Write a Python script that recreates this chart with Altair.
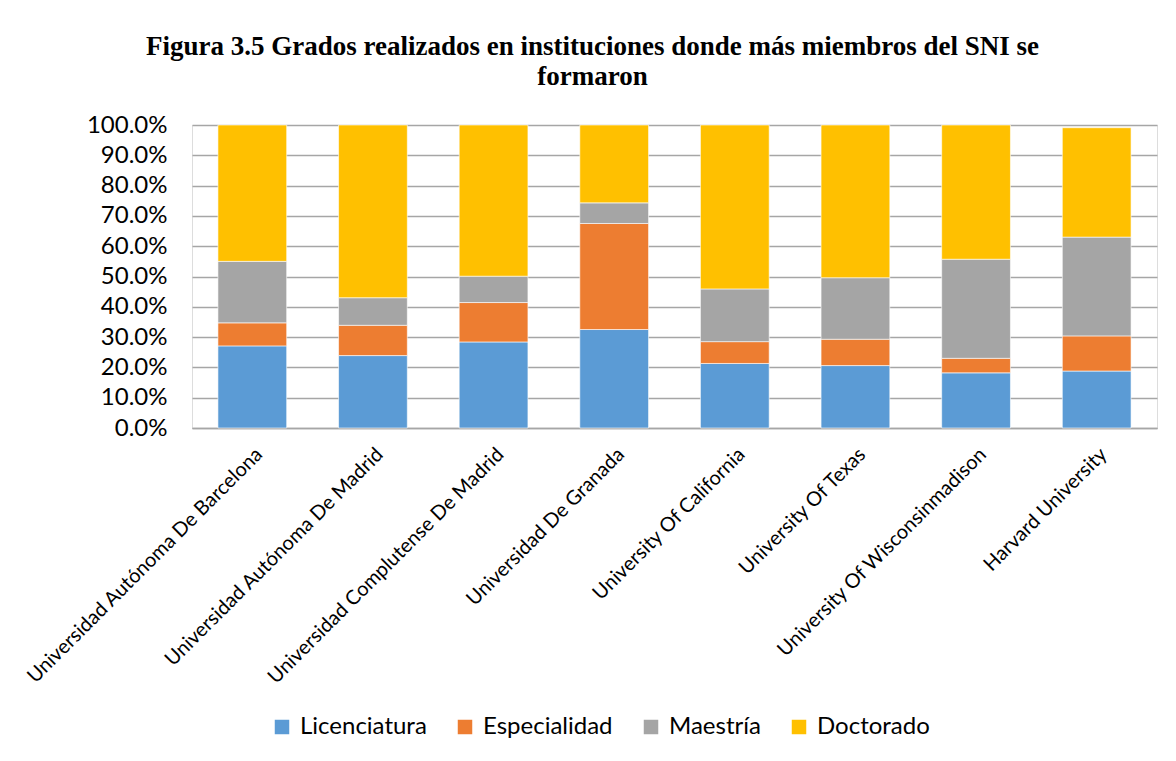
import altair as alt
import pandas as pd

universidades = [
    "Universidad Autónoma De Barcelona",
    "Universidad Autónoma De Madrid",
    "Universidad Complutense De Madrid",
    "Universidad De Granada",
    "University Of California",
    "University Of Texas",
    "University Of Wisconsinmadison",
    "Harvard University",
]
grados = ["Licenciatura", "Especialidad", "Maestría", "Doctorado"]
colores = ["#5B9BD5", "#ED7D31", "#A5A5A5", "#FFC000"]

licenciatura = [0.271, 0.239, 0.284, 0.325, 0.213, 0.206, 0.182, 0.188]
especialidad = [0.076, 0.100, 0.130, 0.350, 0.072, 0.087, 0.048, 0.116]
maestria = [0.203, 0.091, 0.087, 0.068, 0.174, 0.203, 0.327, 0.326]
doctorado = [0.450, 0.570, 0.499, 0.257, 0.541, 0.504, 0.443, 0.361]

series = [licenciatura, especialidad, maestria, doctorado]
rows = []
for gi, (g, vals) in enumerate(zip(grados, series)):
    for u, v in zip(universidades, vals):
        rows.append({"Universidad": u, "Grado": g, "orden": gi, "valor": v})
df = pd.DataFrame(rows)

chart = (
    alt.Chart(df)
    .mark_bar(stroke="white", strokeWidth=0.6)
    .encode(
        x=alt.X(
            "Universidad:N",
            sort=universidades,
            title=None,
            scale=alt.Scale(paddingInner=0.43, paddingOuter=0.215),
            axis=alt.Axis(
                labelAngle=-45,
                labelAlign="right",
                labelBaseline="top",
                labelFont="Lato",
                labelFontSize=20,
                labelColor="#000000",
                labelPadding=16,
                ticks=False,
                domainColor="#a6a6a6",
                domainWidth=1.5,
                labelLimit=500,
            ),
        ),
        y=alt.Y(
            "valor:Q",
            stack="zero",
            title=None,
            scale=alt.Scale(domain=[0, 1], nice=False),
            axis=alt.Axis(
                format=".1%",
                values=[i / 10 for i in range(11)],
                labelFont="Lato",
                labelFontSize=24,
                labelColor="#000000",
                labelPadding=25,
                ticks=False,
                domain=False,
                grid=True,
                gridColor="#a6a6a6",
                gridWidth=1.5,
            ),
        ),
        color=alt.Color(
            "Grado:N",
            scale=alt.Scale(domain=grados, range=colores),
            legend=alt.Legend(
                title=None,
                orient="none",
                direction="horizontal",
                legendX=78,
                legendY=590,
                symbolType="square",
                symbolSize=210,
                symbolStrokeWidth=0,
                labelFont="Lato",
                labelFontSize=24,
                labelColor="#000000",
                columnPadding=26,
                labelOffset=6,
            ),
        ),
        order=alt.Order("orden:Q", sort="ascending"),
    )
    .properties(
        width=965,
        height=303,
        autosize=alt.AutoSizeParams(type="none"),
        padding={"left": 184, "top": 117, "right": 10, "bottom": 310},
        title=alt.TitleParams(
            text=[
                "Figura 3.5 Grados realizados en instituciones donde más miembros del SNI se",
                "formaron",
            ],
            font="Liberation Serif",
            fontSize=27,
            fontWeight="bold",
            color="#000000",
            anchor="middle",
            frame="group",
            dx=-82,
            offset=22,
            lineHeight=30,
        ),
    )
    .configure_view(stroke=None)
    .configure(background="white")
)

chart.save("out.html", embed_options={"renderer": "svg", "actions": False})
